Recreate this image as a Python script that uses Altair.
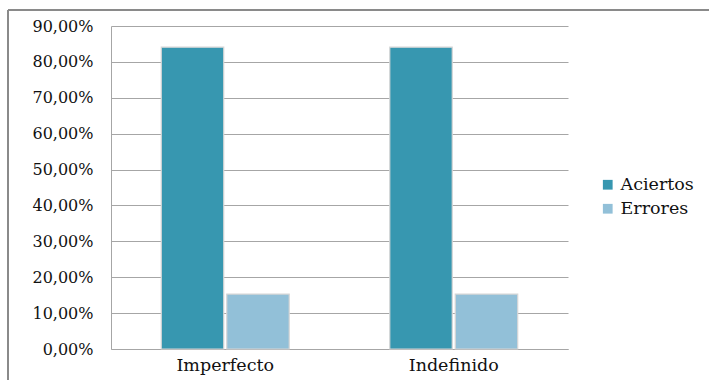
import altair as alt
import pandas as pd

# Share of correct answers and errors per verb tense
tenses = ["Imperfecto", "Indefinido"]
series = ["Aciertos", "Errores"]
aciertos = [0.841, 0.841]
errores = [0.153, 0.153]
y_ticks = [0.0, 0.1, 0.2, 0.3, 0.4, 0.5, 0.6, 0.7, 0.8, 0.9]
colors = ["#3797b0", "#92c0d8"]

rows = []
for i, t in enumerate(tenses):
    rows.append({"tiempo": t, "serie": series[0], "valor": aciertos[i]})
    rows.append({"tiempo": t, "serie": series[1], "valor": errores[i]})
df = pd.DataFrame(rows)

W, H = 457, 323
PAD_L, PAD_T = 111, 26
SERIF = "DejaVu Serif"
GRID = "#a6a6a6"
INK = "#111111"

bars = alt.Chart(df).mark_bar(
    stroke="#d6d6d6", strokeWidth=1.2
).encode(
    x=alt.X(
        "tiempo:N",
        sort=tenses,
        title=None,
        scale=alt.Scale(paddingInner=0.44, paddingOuter=0.22),
        axis=alt.Axis(
            labelAngle=0,
            ticks=False,
            domainColor=GRID,
            domainWidth=1,
            labelFont=SERIF,
            labelFontSize=17.5,
            labelColor=INK,
            labelPadding=7,
            grid=False,
        ),
    ),
    xOffset=alt.XOffset("serie:N", sort=series, scale=alt.Scale(paddingInner=0.046)),
    y=alt.Y(
        "valor:Q",
        title=None,
        scale=alt.Scale(domain=[0, 0.9], nice=False),
        axis=alt.Axis(
            values=y_ticks,
            labelExpr="replace(format(datum.value, '.2%'), '.', ',')",
            ticks=False,
            domainColor=GRID,
            domainWidth=1,
            gridColor=GRID,
            gridWidth=1,
            labelFont=SERIF,
            labelFontSize=16,
            labelColor=INK,
            labelPadding=18,
        ),
    ),
    color=alt.Color(
        "serie:N",
        sort=series,
        scale=alt.Scale(domain=series, range=colors),
        legend=alt.Legend(
            title=None,
            orient="none",
            legendX=488,
            legendY=150,
            symbolType="square",
            symbolSize=95,
            symbolStrokeWidth=0,
            labelFont=SERIF,
            labelFontSize=17.5,
            labelColor=INK,
            labelOffset=4,
            rowPadding=5,
            padding=0,
        ),
    ),
)

# Outer chart frame (top and left edges)
frame_top = alt.Chart(pd.DataFrame({"k": [0]})).mark_rule(
    color="#8a8a8a", strokeWidth=2
).encode(x=alt.value(8 - PAD_L), x2=alt.value(709 - PAD_L), y=alt.value(10 - PAD_T))

frame_left = alt.Chart(pd.DataFrame({"k": [0]})).mark_rule(
    color="#8a8a8a", strokeWidth=2
).encode(x=alt.value(8 - PAD_L), y=alt.value(10 - PAD_T), y2=alt.value(380 - PAD_T))

chart = alt.layer(bars, frame_top, frame_left).properties(
    width=W,
    height=H,
    background="white",
    autosize=alt.AutoSizeParams(type="none"),
    padding={"left": PAD_L, "top": PAD_T, "right": 709 - PAD_L - W, "bottom": 380 - PAD_T - H},
).configure_view(strokeWidth=0)

chart.save("out.html", embed_options={"renderer": "svg", "actions": False})
